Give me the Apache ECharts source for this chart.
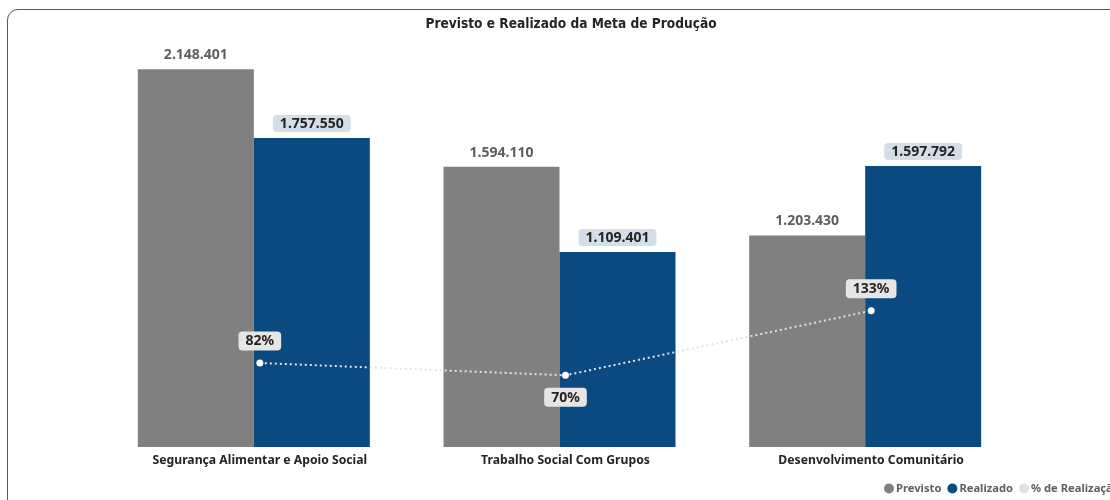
<!DOCTYPE html>
<html>
<head>
<meta charset="utf-8">
<script src="https://cdn.jsdelivr.net/npm/echarts@6/dist/echarts.min.js"></script>
<style>
  html, body { margin: 0; padding: 0; width: 1110px; height: 500px; overflow: hidden; background: #fff; }
  #frame { position: absolute; left: 7px; top: 9px; width: 1200px; height: 600px; border: 1px solid #5a5a5a; border-radius: 11px; box-sizing: border-box; }
  #chart { position: absolute; left: 0; top: 0; width: 1250px; height: 500px; }
</style>
</head>
<body>
<div id="frame"></div>
<div id="chart"></div>
<script>
const titleText = 'Previsto e Realizado da Meta de Produção';
const categories = ['Segurança Alimentar e Apoio Social', 'Trabalho Social Com Grupos', 'Desenvolvimento Comunitário'];
const previsto = [2148401, 1594110, 1203430];
const realizado = [1757550, 1109401, 1597792];
const pctRealizacao = [82, 70, 133];
const seriesNames = ['Previsto', 'Realizado', '% de Realização'];

const fmt = v => v.toString().replace(/\B(?=(\d{3})+(?!\d))/g, '.');
const FONT = '"Noto Sans", "Open Sans", sans-serif';

const chart = echarts.init(document.getElementById('chart'), null, { renderer: 'canvas' });
chart.setOption({
  animation: false,
  title: {
    text: titleText,
    left: 566, top: 12, textAlign: 'center',
    textStyle: { fontFamily: '"DejaVu Sans Condensed", sans-serif', fontWeight: 'bold', fontSize: 13.6, color: '#252423' }
  },
  legend: {
    left: 879, top: 478, itemGap: 6, itemWidth: 10, itemHeight: 10,
    data: [
      { name: seriesNames[0], icon: 'circle' },
      { name: seriesNames[1], icon: 'circle' },
      { name: seriesNames[2], icon: 'circle', itemStyle: { color: '#e3e3e3' } }
    ],
    textStyle: { fontFamily: FONT, fontWeight: 'bold', fontSize: 11.2, color: '#605e5c', padding: [0, 0, 0, -3] }
  },
  grid: [
    { left: 101, right: 232, top: 25, bottom: 53 },
    { left: 107, right: 226, top: 25, bottom: 53 }
  ],
  xAxis: [
    { type: 'category', gridIndex: 0, data: categories, show: false },
    { type: 'category', gridIndex: 1, data: categories,
      axisLine: { show: false }, axisTick: { show: false },
      axisLabel: { margin: 8, fontFamily: FONT, fontWeight: 'bold', fontSize: 12.2, color: '#252423' } }
  ],
  yAxis: [
    { type: 'value', gridIndex: 0, min: 0, max: 2400000, show: false, splitLine: { show: false } },
    { type: 'value', gridIndex: 1, min: 0, max: 412, show: false, splitLine: { show: false } }
  ],
  series: [
    { name: seriesNames[0], type: 'bar', xAxisIndex: 0, yAxisIndex: 0, data: previsto,
      barWidth: 116, barGap: '0%', itemStyle: { color: '#808080' },
      label: { show: true, position: 'top', distance: 7, formatter: p => fmt(p.value),
        fontFamily: FONT, fontWeight: 'bold', fontSize: 14, color: '#605e5c' } },
    { name: seriesNames[1], type: 'bar', xAxisIndex: 0, yAxisIndex: 0, data: realizado,
      barWidth: 116, barGap: '0%', itemStyle: { color: '#0b4a80' },
      label: { show: true, position: 'top', distance: 6, formatter: p => fmt(p.value),
        fontFamily: FONT, fontWeight: 'bold', fontSize: 14, color: '#252423',
        backgroundColor: '#d3dee8', borderRadius: 4, padding: [2, 7, 1, 7] } },
    { name: seriesNames[2], type: 'line', xAxisIndex: 1, yAxisIndex: 1,
      data: pctRealizacao.map((v, i) => ({ value: v, label: { position: i === 1 ? 'bottom' : 'top' } })),
      symbol: 'circle', symbolSize: 7,
      lineStyle: { color: '#e3e3e3', width: 2, type: [2, 3] },
      itemStyle: { color: '#ffffff', borderWidth: 0 },
      label: { show: true, distance: 9, formatter: p => p.value + '%',
        fontFamily: FONT, fontWeight: 'bold', fontSize: 14, color: '#252423',
        backgroundColor: '#e6e6e6', borderRadius: 4, padding: [3, 7, 2, 7] } }
  ]
});
</script>
</body>
</html>
